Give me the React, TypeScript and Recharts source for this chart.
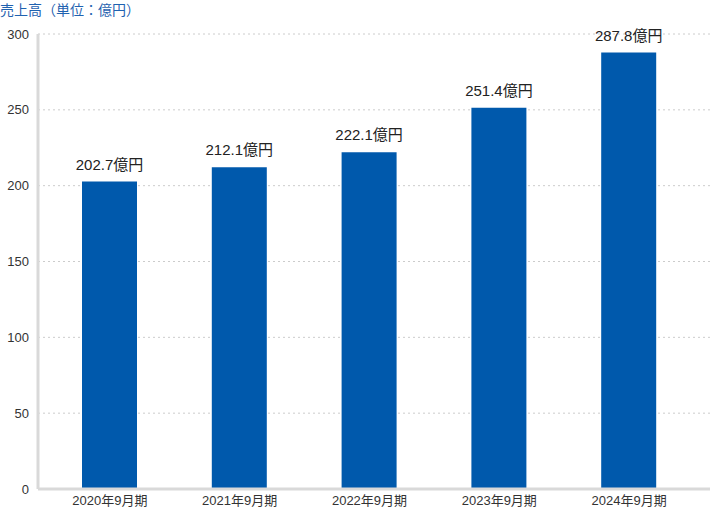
import React from "react";
import { BarChart, Bar, XAxis, YAxis, CartesianGrid, LabelList } from "recharts";

const categories = ["2020年9月期", "2021年9月期", "2022年9月期", "2023年9月期", "2024年9月期"];
const sales = [202.7, 212.1, 222.1, 251.4, 287.8];
const yTicks = [0, 50, 100, 150, 200, 250, 300];

const data = categories.map((c, i) => ({ name: c, value: sales[i] }));

const FONT = "'Liberation Sans', Arial, 'Noto Sans CJK JP', sans-serif";
const TITLE_FONT = "'Noto Sans CJK JP', sans-serif";

export default function App() {
  return (
    <div style={{ position: "absolute", left: 0, top: 0, width: 711, height: 510, fontFamily: FONT }}>
      <div
        style={{
          position: "absolute",
          left: 0,
          top: 0,
          fontSize: 14,
          lineHeight: "18px",
          color: "#1f62b0",
          fontFamily: TITLE_FONT,
          whiteSpace: "nowrap",
        }}
      >
        売上高（単位：億円）
      </div>
      <BarChart width={711} height={510} data={data} margin={{ top: 34, right: 1, left: 0, bottom: 0 }}>
        <CartesianGrid vertical={false} stroke="#cccccc" strokeDasharray="2 3" />
        <XAxis
          dataKey="name"
          height={21}
          padding={{ left: 7, right: 16 }}
          axisLine={{ stroke: "#d9d9d9", strokeWidth: 3 }}
          tickLine={false}
          tick={{ fill: "#333", fontSize: 13, fontFamily: FONT }}
          tickMargin={1}
        />
        <YAxis
          width={38}
          domain={[0, 300]}
          ticks={yTicks}
          axisLine={{ stroke: "#d9d9d9", strokeWidth: 3 }}
          tickLine={false}
          tickSize={7}
          tickMargin={2}
          tick={{ fill: "#333", fontSize: 13, fontFamily: FONT }}
        />
        <Bar dataKey="value" fill="#0059ac" barSize={55} isAnimationActive={false}>
          <LabelList
            dataKey="value"
            position="top"
            offset={12}
            formatter={(v: number) => `${v.toFixed(1)}億円`}
            style={{ fill: "#222", fontSize: 15, fontFamily: FONT }}
          />
        </Bar>
      </BarChart>
    </div>
  );
}
